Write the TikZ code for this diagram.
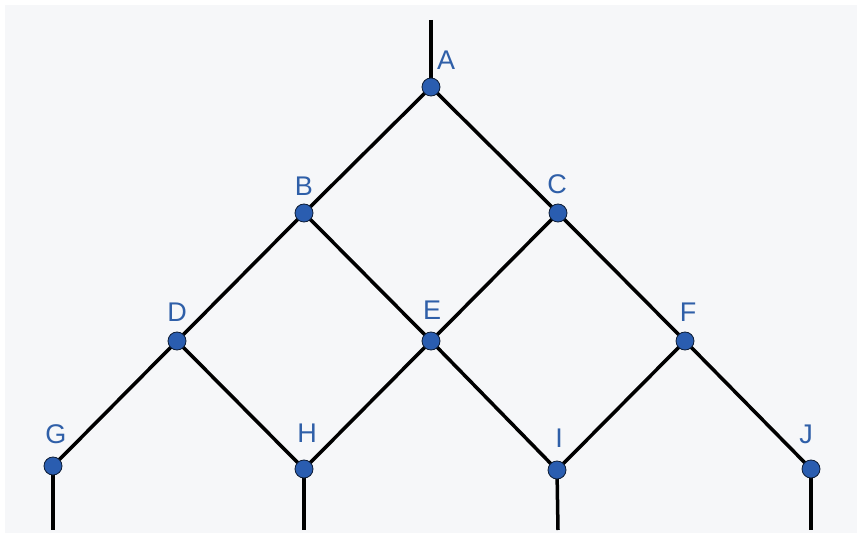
\documentclass[tikz,border=0pt]{standalone}
\usepackage{fontspec}
\setmainfont{Liberation Sans}
\definecolor{bgc}{HTML}{F6F7F9}
\definecolor{dotc}{HTML}{2A5DB0}
\definecolor{labc}{HTML}{2F5FA8}
\begin{document}
\begin{tikzpicture}[x=1pt,y=-1pt,
  vertex/.style={circle,fill=dotc,draw=black!70!dotc,line width=0.8pt,minimum size=18pt,inner sep=0pt},
  lab/.style={text=labc,font=\fontsize{27}{27}\selectfont,inner sep=0pt},
  edge/.style={line width=3.5pt,black}]
\useasboundingbox (0,0) rectangle (862,537);
\fill[white] (0,0) rectangle (862,537);
\fill[bgc] (5,5) rectangle (857,533);
\coordinate (A) at (431,87);
\coordinate (B) at (304,213);
\coordinate (C) at (558,213);
\coordinate (D) at (177,341);
\coordinate (E) at (431,341);
\coordinate (F) at (685,341);
\coordinate (G) at (53,466);
\coordinate (H) at (304,469);
\coordinate (I) at (557,470);
\coordinate (J) at (811,469);
\coordinate (At) at (431,20);
\coordinate (Gb) at (53,530);
\coordinate (Hb) at (304,530);
\coordinate (Ib) at (558,530);
\coordinate (Jb) at (811,530);
\draw[edge] (At) -- (A);
\draw[edge] (A) -- (B) -- (D) -- (G);
\draw[edge] (A) -- (C) -- (F) -- (J);
\draw[edge] (B) -- (E) -- (I);
\draw[edge] (C) -- (E) -- (H);
\draw[edge] (D) -- (H);
\draw[edge] (F) -- (I);
\draw[edge] (G) -- (Gb);
\draw[edge] (H) -- (Hb);
\draw[edge] (I) -- (Ib);
\draw[edge] (J) -- (Jb);
\foreach \n in {A,B,C,D,E,F,G,H,I,J} \node[vertex] (v\n) at (\n) {};
\node[lab] (lA) at (446,60) {A};
\node[lab] (lB) at (304,186) {B};
\node[lab] (lC) at (557,184) {C};
\node[lab] (lD) at (177,312) {D};
\node[lab] (lE) at (432,310) {E};
\node[lab] (lF) at (688,312) {F};
\node[lab] (lG) at (56,434) {G};
\node[lab] (lH) at (307,433) {H};
\node[lab] (lI) at (559,438) {I};
\node[lab] (lJ) at (806,434) {J};
\end{tikzpicture}
\end{document}
